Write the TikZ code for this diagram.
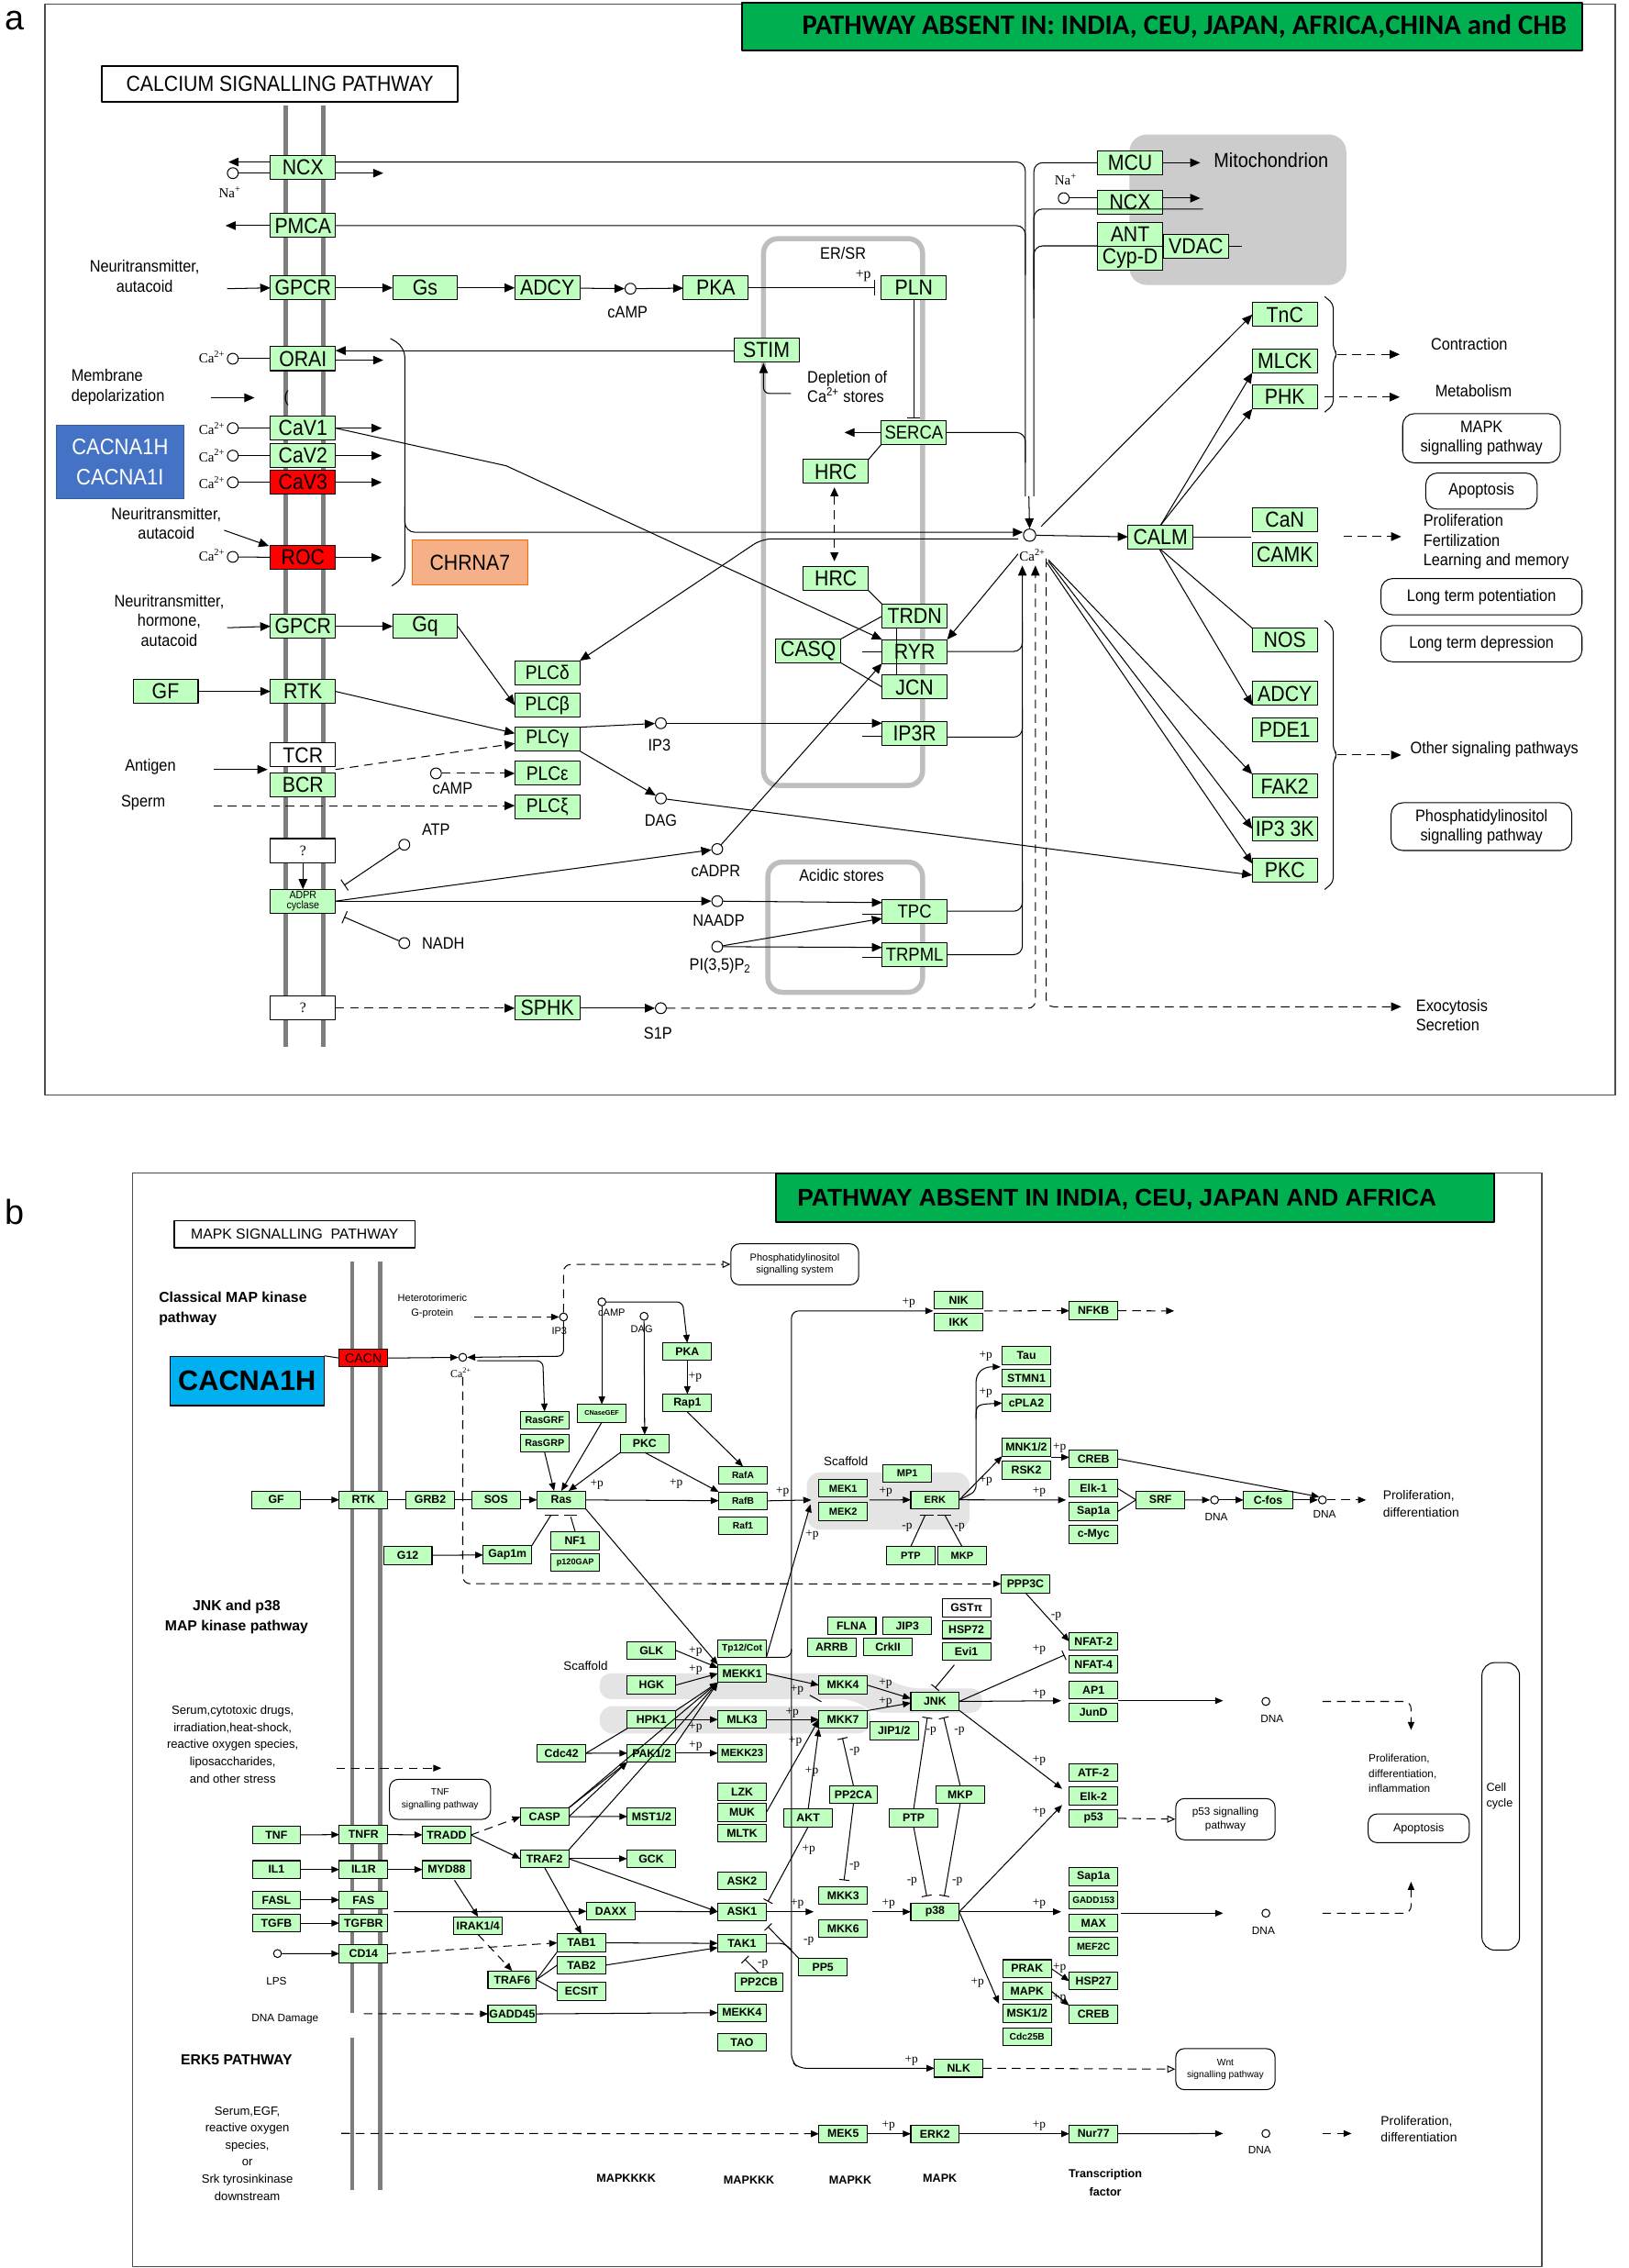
\documentclass[tikz,border=0pt]{standalone}
\usepackage{fontspec}
\setmainfont{Liberation Sans}
\newfontfamily\nfont[FakeStretch=0.9]{Liberation Sans}
\newfontfamily\kserif{Liberation Serif}
\newfontfamily\cfont{Carlito}
\usetikzlibrary{arrows.meta}
\definecolor{kgreen}{RGB}{191,255,191}
\definecolor{kred}{RGB}{255,0,0}
\definecolor{kbanner}{RGB}{0,176,80}
\definecolor{kblue}{RGB}{68,114,196}
\definecolor{kcyan}{RGB}{0,176,240}
\definecolor{kchrna}{RGB}{245,176,135}
\definecolor{kmemb}{RGB}{125,125,125}
\definecolor{kstore}{RGB}{190,190,190}
\definecolor{kmito}{RGB}{204,204,204}
\definecolor{kscaf}{RGB}{228,228,228}
\newcommand{\genefont}{\nfont\fontsize{15}{15}\selectfont}
\newcommand{\bgenefont}{\bfseries\fontsize{7.8}{8}\selectfont}
\newcommand{\caion}{{\kserif Ca\textsuperscript{2+}}}
\tikzstyle{gene}=[draw, fill=kgreen, inner sep=0, outer sep=0, minimum width=45pt, minimum height=16.5pt, font=\genefont]
\tikzstyle{rgene}=[gene, fill=kred]
\tikzstyle{wgene}=[gene, fill=white]
\tikzstyle{bgene}=[draw, fill=kgreen, inner sep=0, outer sep=0, minimum width=33.5pt, minimum height=12.3pt, font=\bgenefont]
\tikzstyle{cpd}=[circle, draw, fill=white, inner sep=0, minimum size=7.5pt]
\tikzstyle{bcpd}=[circle, draw, fill=white, inner sep=0, minimum size=5.5pt]
\tikzstyle{act}=[-{Triangle[length=7pt,width=6pt]}]
\tikzstyle{bact}=[-{Triangle[length=5.5pt,width=4.5pt]}]
\tikzstyle{inh}=[-{Bar[width=9pt]}]
\tikzstyle{binh}=[-{Bar[width=7pt]}]
\tikzstyle{kdash}=[dash pattern=on 6pt off 4pt]
\tikzstyle{oact}=[-{Triangle[open,length=5.5pt,width=5pt]}, kdash]
\tikzstyle{membrane}=[line width=3.3pt, kmemb]
\tikzstyle{lbla}=[inner sep=0, align=center, font=\nfont\fontsize{11.5}{13.5}\selectfont]
\tikzstyle{lblb}=[inner sep=0, align=center, font=\fontsize{7.5}{9}\selectfont]
\tikzstyle{ion}=[inner sep=0, font=\fontsize{9.5}{10}\selectfont]
\tikzstyle{bion}=[inner sep=0, font=\fontsize{7}{7}\selectfont]
\tikzstyle{pl}=[inner sep=0, font=\kserif\fontsize{8.5}{9}\selectfont]
\tikzstyle{mapbox}=[draw, rounded corners=8pt, inner sep=0, align=center, font=\nfont\fontsize{11.5}{13.5}\selectfont]
\tikzstyle{bmapbox}=[draw, rounded corners=6pt, inner sep=0, align=center, font=\fontsize{7}{8.5}\selectfont]
\tikzstyle{banner}=[draw, line width=1.2pt, fill=kbanner, inner sep=0]
\begin{document}
\begin{tikzpicture}[x=1pt, y=-1pt, line width=0.65pt, line join=round]
\useasboundingbox (0,0) rectangle (1126,1568);
\fill[white] (0,0) rectangle (1126,1568);

%%%%%%%%%% a: calcium signalling pathway
\node[font=\fontsize{24}{24}\selectfont] (laba) at (10,14) {a};
\draw[line width=0.8pt, black!70] (31,3) rectangle (1117,757);
\node[banner, minimum width=581pt, minimum height=33pt] (bana) at (803.5,18.5) {};
\node[font=\cfont\bfseries\fontsize{19.5}{19.5}\selectfont] (tbana) at (819,18.5) {PATHWAY ABSENT IN: INDIA, CEU, JAPAN, AFRICA,CHINA and CHB};
\node[draw, line width=1.2pt, minimum width=246pt, minimum height=25pt, inner sep=0, font=\nfont\fontsize{15}{15}\selectfont] (tita) at (193.5,58) {CALCIUM SIGNALLING PATHWAY};

% compartments
\fill[kmito, rounded corners=12pt] (781,93) rectangle (931,197);
\draw[kstore, line width=3.5pt, rounded corners=10pt] (528,165) rectangle (638,543);
\draw[kstore, line width=3.5pt, rounded corners=10pt] (531,596) rectangle (638,686);
\node[lbla] (lersr) at (583,175) {ER/SR};
\node[lbla] (lacid) at (582,605) {Acidic stores};
\node[lbla, font=\nfont\fontsize{14}{14}\selectfont] (lmito) at (879,111) {Mitochondrion};
\draw[membrane] (197.5,73) -- (197.5,724);
\draw[membrane] (223.5,73) -- (223.5,724);

% membrane column
\node[gene] (ncx) at (209.5,115.5) {NCX};
\node[gene] (pmca) at (209.5,156) {PMCA};
\node[gene] (gpcra) at (209.5,199) {GPCR};
\node[gene] (orai) at (209.5,248) {ORAI};
\node[gene] (cav1) at (209.5,296) {CaV1};
\node[gene] (cav2) at (209.5,315) {CaV2};
\node[rgene] (cav3) at (209.5,333.5) {CaV3};
\node[rgene] (roc) at (209.5,385.5) {ROC};
\node[gene] (gpcrb) at (209.5,433) {GPCR};
\node[gene] (rtka) at (209.5,478) {RTK};
\node[wgene] (tcr) at (209.5,522) {TCR};
\node[gene] (bcr) at (209.5,542.5) {BCR};
\node[wgene, font=\kserif\fontsize{10}{10}\selectfont] (unka) at (209.5,588) {?};
\node[gene, align=center, font=\nfont\fontsize{7.5}{7.5}\selectfont] (adprc) at (209.5,623) {ADPR\\cyclase};
\node[wgene, font=\kserif\fontsize{10}{10}\selectfont] (unkb) at (209.5,697) {?};
\node[gene] (gfa) at (114.5,478) {GF};
\node[draw=kblue!80!black, fill=kblue, minimum width=88pt, minimum height=51pt, inner sep=0, align=center, text=white, font=\nfont\fontsize{15.5}{20.5}\selectfont] (cacnai) at (83,319.5) {CACNA1H\\CACNA1I};
\node[draw=orange!80!red, fill=kchrna, minimum width=80pt, minimum height=31pt, inner sep=0, font=\genefont] (chrna7) at (325,389) {CHRNA7};

% cytosol genes
\node[gene] (gs) at (294,199) {Gs};
\node[gene] (adcya) at (378.5,199) {ADCY};
\node[gene] (pka) at (495,199) {PKA};
\node[gene] (gq) at (294,433) {Gq};
\node[gene, font=\nfont\fontsize{13.5}{13.5}\selectfont] (plcd) at (378.5,465) {PLCδ};
\node[gene, font=\nfont\fontsize{13.5}{13.5}\selectfont] (plcb) at (378.5,487.5) {PLCβ};
\node[gene, font=\nfont\fontsize{13.5}{13.5}\selectfont] (plcg) at (378.5,511) {PLCγ};
\node[gene, font=\nfont\fontsize{13.5}{13.5}\selectfont] (plce) at (378.5,534.7) {PLCε};
\node[gene, font=\nfont\fontsize{13.5}{13.5}\selectfont] (plcx) at (378.5,558) {PLCξ};
\node[gene] (sphk) at (378.5,697) {SPHK};
\node[gene] (stim) at (530,242) {STIM};
\node[gene] (pln) at (632,199) {PLN};
\node[gene, font=\nfont\fontsize{13}{13}\selectfont] (serca) at (632,299) {SERCA};
\node[gene] (hrca) at (578,326) {HRC};
\node[gene] (hrcb) at (578,400) {HRC};
\node[gene] (trdn) at (632.5,426) {TRDN};
\node[gene] (ryr) at (632.5,450.4) {RYR};
\node[gene] (jcn) at (632.5,475) {JCN};
\node[gene] (casq) at (559,450) {CASQ};
\node[gene] (ip3r) at (632.5,507) {IP3R};
\node[gene, font=\nfont\fontsize{13}{13}\selectfont] (tpc) at (632.5,630) {TPC};
\node[gene, font=\nfont\fontsize{13}{13}\selectfont] (trpml) at (632.5,660) {TRPML};
\node[gene] (mcu) at (781.5,112.5) {MCU};
\node[gene] (ncxm) at (781.5,140) {NCX};
\node[gene] (ant) at (781.5,162) {ANT};
\node[gene] (cypd) at (781.5,178.5) {Cyp-D};
\node[gene] (vdac) at (827,170.5) {VDAC};
\node[gene] (calm) at (802.5,371.5) {CALM};
\node[gene] (tnc) at (888.5,217.5) {TnC};
\node[gene] (mlck) at (888.5,249.5) {MLCK};
\node[gene] (phk) at (888.5,274.5) {PHK};
\node[gene] (can) at (888.5,359.5) {CaN};
\node[gene] (camk) at (888.5,383.5) {CAMK};
\node[gene] (nos) at (888.5,442.5) {NOS};
\node[gene] (adcyb) at (888.5,479.5) {ADCY};
\node[gene] (pde1) at (888.5,504.5) {PDE1};
\node[gene] (fak2) at (888.5,543.5) {FAK2};
\node[gene] (ip3k) at (888.5,573) {IP3 3K};
\node[gene] (pkca) at (888.5,601.5) {PKC};

% compounds
\node[cpd, minimum size=8.5pt] (ca) at (712,370) {};
\node[ion] (lca) at (714,384) {\caion};
\node[cpd] (naa) at (161,119.7) {};
\node[ion] (lnaa) at (159,133) {{\kserif Na\textsuperscript{+}}};
\node[cpd] (nam) at (735.6,137) {};
\node[ion] (lnam) at (737,124) {{\kserif Na\textsuperscript{+}}};
\node[cpd] (camp) at (436,199.6) {};
\node[lbla] (lcamp) at (434,215.6) {cAMP};
\node[cpd] (caorai) at (161,248) {};
\node[ion, anchor=east] (lcaorai) at (156,247) {\caion};
\foreach \i/\y in {1/296, 2/315, 3/333.5} {
  \node[cpd] (cacv\i) at (161,\y) {};
  \node[ion, anchor=east] (lcacv\i) at (156,\y) {\caion};
  \draw (cacv\i) -- (cav\i);
  \draw[act] (cav\i.east) -- ++(32,0);
}
\node[cpd] (caroc) at (161,385) {};
\node[ion, anchor=east] (lcaroc) at (156,384) {\caion};
\node[cpd] (ip3) at (457,500) {};
\node[lbla] (lip3) at (456,515) {IP3};
\node[cpd] (dag) at (457,552) {};
\node[lbla] (ldag) at (457,567) {DAG};
\node[cpd] (cadpr) at (496,587) {};
\node[lbla] (lcadpr) at (495,602.4) {cADPR};
\node[cpd] (naadp) at (496,623) {};
\node[lbla] (lnaadp) at (497,636.5) {NAADP};
\node[cpd] (pip) at (496,654.5) {};
\node[lbla] (lpip) at (498,668) {PI(3,5)P\textsubscript{2}};
\node[cpd] (s1p) at (457,697) {};
\node[lbla] (ls1p) at (455,714.5) {S1P};
\node[cpd] (atp) at (279.6,584) {};
\node[lbla] (latp) at (301.5,573.5) {ATP};
\node[cpd] (nadh) at (279.6,652) {};
\node[lbla] (lnadh) at (306.5,652) {NADH};
\node[cpd] (campb) at (301.5,534.7) {};
\node[lbla] (lcampb) at (313,545) {cAMP};

% left labels
\node[lbla] (lnt1) at (100,191) {Neuritransmitter,\\autacoid};
\node[lbla, align=left, anchor=west] (ldepol) at (49,267.5) {Membrane\\depolarization};
\node[lbla] (lnt2) at (115,362) {Neuritransmitter,\\autacoid};
\node[lbla] (lnt3) at (117,429) {Neuritransmitter,\\hormone,\\autacoid};
\node[lbla] (lantig) at (104,530) {Antigen};
\node[lbla] (lsperm) at (99,555) {Sperm};
\node[lbla, font=\nfont\fontsize{11}{11}\selectfont] (paren) at (198,275) {(};
\node[lbla, align=left, anchor=west] (ldepl) at (558,267.5) {Depletion of\\Ca\textsuperscript{2+} stores};
\node[pl, font=\kserif\fontsize{10}{10}\selectfont] (pplna) at (597,191) {+p};

% right outputs
\node[lbla] (lcontr) at (1016,238) {Contraction};
\node[lbla] (lmetab) at (1019,270) {Metabolism};
\node[mapbox, minimum width=109pt, minimum height=34pt] (mapkbox) at (1024.5,303) {MAPK\\signalling pathway};
\node[mapbox, minimum width=77pt, minimum height=25pt] (apopa) at (1024.5,339.5) {Apoptosis};
\node[lbla, align=left, anchor=west] (lprolif) at (984,374.5) {Proliferation\\Fertilization\\Learning and memory};
\node[mapbox, minimum width=139pt, minimum height=25pt] (ltpbox) at (1024.5,412.5) {Long term potentiation};
\node[mapbox, minimum width=139pt, minimum height=25pt] (ltdbox) at (1024.5,445) {Long term depression};
\node[lbla, anchor=west] (lother) at (975,518) {Other signaling pathways};
\node[mapbox, minimum width=125pt, minimum height=33pt] (phosbox) at (1024.5,571.5) {Phosphatidylinositol\\signalling pathway};
\node[lbla, align=left, anchor=west] (lexo) at (979,702) {Exocytosis\\Secretion};

% connectors: plasma membrane
\draw[act] (ncx.west |- 0,112) -- (158,112);
\draw (naa) -- (ncx.west |- naa);
\draw[act] (ncx.east |- naa) -- (265,119.7);
\draw[rounded corners=6pt] (ncx.east |- 0,112) -- (709,112) -- (709,343);
\draw[act] (pmca.west) -- (156,156);
\draw[rounded corners=6pt] (pmca.east) -- (709,156) -- (709,190);
\draw[act] (157,199.6) -- (gpcra.west);
\draw[act] (gpcra) -- (gs);
\draw[act] (gs) -- (adcya);
\draw[act] (adcya) -- (camp);
\draw[act] (camp) -- (pka);
\draw[-{Bar[width=11pt]}] (pka.east) -- (605,199);
\draw[act] (stim.west |- 0,242.4) -- (orai.east |- 0,242.4);
\draw (caorai) -- (orai);
\draw[act] (orai.east |- 0,249) -- (265,249);
\draw[act, rounded corners=4pt] (547,272) -- (528,272) -- (528,251);
\draw[act] (146,275) -- (176,275);
\draw (caroc) -- (roc);
\draw[act] (roc.east) -- ++(32,0);
\draw[act] (155,366.6) -- (186,377.5);
\draw[rounded corners=7pt] (270,234) -- (280,240) -- (280,399) -- (271,405);
\draw[act, rounded corners=7pt] (280,350) -- (280,368) -- (ca.west |- 0,368);
\draw[act] (157,434) -- (gpcrb.west);
\draw[act] (gpcrb) -- (gq);
\draw[act] (gq.east) -- (plcb.west);
\draw[act] (gfa) -- (rtka);
\draw[act] (rtka.east) -- (plcg.west |- 0,507);
\draw[act, kdash] (tcr.east |- 0,532) -- (plcg.west |- 0,514);
\draw[act] (147.5,532) -- (185,532);
\draw[act, kdash] (147.5,557) -- (plcx.west |- 0,557);
\draw[act, kdash] (campb) -- (plce.west);
\draw[act] (plcg.north east) -- (ip3);
\draw[act] (ip3) -- (ip3r.west |- ip3);
\draw[act] (plcg.south east) -- (dag);
\draw[act] (dag) -- (pkca.west |- 0,605);
\draw[act] (unka) -- (adprc);
\draw[act] (adprc.east) -- (cadpr);
\draw[act] (adprc.east) -- (naadp);
\draw[inh] (atp) -- (238,612);
\draw[inh] (nadh) -- (238,634);
\draw[act] (cadpr) -- (ryr.south west);
\draw[act] (naadp) -- (tpc.west |- 0,624);
\draw[act] (pip) -- (tpc.west |- 0,635);
\draw[act] (pip) -- (trpml.west |- 0,655);
\draw[act, kdash] (unkb) -- (sphk);
\draw[act] (sphk) -- (s1p);
\draw[act, kdash, rounded corners=5pt] (s1p) -- (716,697) -- (716,391);
\draw[act, kdash, rounded corners=5pt] (723.5,386) -- (723.5,696) -- (969,696);

% connectors: stores
\draw[act] (serca.west) -- (584,299);
\draw[rounded corners=6pt] (serca.east) -- (709,299) -- (709,320);
\draw[inh] (pln.south) -- (632,289);
\draw (serca.south west) -- (hrca.north east);
\draw[{Triangle[length=6pt,width=5.5pt]}-{Triangle[length=6pt,width=5.5pt]}, kdash] (577,337) -- (577,388);
\draw (hrcb.south east) -- (trdn.north west);
\draw (casq.north east) -- (trdn.west);
\draw (casq.south east) -- (jcn.west);
\draw (620,434) -- (620,467);
\draw (596,450.4) -- (ryr.west);
\draw (596,509) -- (ip3r.west |- 0,509);
\draw (596,632) -- (tpc.west |- 0,632);
\draw (596,662) -- (trpml.west |- 0,662);
\draw[rounded corners=6pt] (ryr.east) -- (707,450.4) -- (707,430);
\draw[rounded corners=6pt] (ip3r.east |- 0,509.6) -- (707,509.6) -- (707,490);
\draw[rounded corners=6pt] (tpc.east) -- (707,630) -- (707,610);
\draw[act, rounded corners=6pt] (trpml.east) -- (707,660) -- (707,391);
\draw[act] (cav1.east) -- (350,322) -- (ryr.north west);
\draw[act] (704,383) -- (ryr.north east);
\draw[act, rounded corners=7pt] (704,372.5) -- (527,372.5) -- (plcd.north east);

% connectors: mitochondrion
\draw[rounded corners=6pt] (mcu.west) -- (715,112.5) -- (715,343);
\draw[act] (711.5,343) -- (ca.north);
\draw[act] (mcu.east) -- (830,112.5);
\draw (nam) -- (ncxm.west |- nam);
\draw[act] (ncxm.east |- nam) -- (830,137);
\draw[rounded corners=6pt] (832,144.5) -- (715,144.5) -- (715,200);
\draw[rounded corners=6pt] (ant.west |- 0,170) -- (715,170) -- (715,220);
\draw (vdac.east) -- (859,170.5);

% connectors: calcium targets
\draw[act] (ca) -- (calm);
\draw[act] (720,364) -- (tnc.west);
\draw[act] (calm.north) -- (mlck.south west);
\draw[act] (calm.north) -- (phk.south west);
\draw (calm.east) -- (865,371.5);
\draw (calm.south) -- (nos.north west);
\draw[act] (802,380) -- (adcyb.south west);
\draw[act] (725,387) -- (fak2.north west);
\draw[act] (725,388) -- (ip3k.west);
\draw[act] (724,389) -- (pkca.west |- 0,597);
\draw[rounded corners=3pt] (916,205) -- (922,210) -- (922,241) -- (925,245) -- (922,249) -- (922,280) -- (916,285);
\draw[rounded corners=3pt] (916,429) -- (922,434) -- (922,518) -- (925,522) -- (922,526) -- (922,610) -- (916,615);
\draw[act, kdash] (925,245) -- (968,245);
\draw[act, kdash] (916,274.5) -- (968,274.5);
\draw[act, kdash] (929,371) -- (969,371);
\draw[act, kdash] (925,522) -- (969,522);

%%%%%%%%%% b: MAPK signalling pathway
\node[font=\fontsize{24}{24}\selectfont] (labb) at (10,838) {b};
\draw[line width=0.8pt, black!70] (91.5,811) rectangle (1066.3,1567);
\node[banner, minimum width=496.8pt, minimum height=34pt] (banb) at (785.1,828) {};
\node[font=\bfseries\fontsize{16.7}{16.7}\selectfont] (tbanb) at (772.4,829) {PATHWAY ABSENT IN INDIA, CEU, JAPAN AND AFRICA};
\node[draw, line width=1.2pt, minimum width=166.5pt, minimum height=19pt, inner sep=0, font=\fontsize{10}{10}\selectfont] (titb) at (203.8,853.4) {MAPK SIGNALLING\ \ PATHWAY};

% scaffolds and membrane
\fill[kscaf, rounded corners=9pt] (558,1018) rectangle (670.5,1057.5);
\fill[kscaf, rounded corners=8pt] (414.6,1156.8) -- (604,1156.8) -- (628,1167.3) -- (679.2,1167.3) -- (679.2,1184.2) -- (604,1184.2) -- (590,1174.7) -- (414.6,1174.7) -- cycle;
\fill[kscaf, rounded corners=9pt] (414.6,1179.5) rectangle (602.2,1198.5);
\draw[membrane, line width=2.8pt] (243.4,872) -- (243.4,1391.5);
\draw[membrane, line width=2.8pt] (243.4,1409) -- (243.4,1514);
\draw[membrane, line width=2.8pt] (262.8,872) -- (262.8,1514);

% section labels
\node[inner sep=0, align=left, anchor=north west, font=\bfseries\fontsize{10}{13.6}\selectfont] (lclass) at (109.6,893) {Classical MAP kinase\\pathway};
\node[draw, fill=kcyan, minimum width=106.4pt, minimum height=34.1pt, inner sep=0, font=\bfseries\fontsize{19.5}{19.5}\selectfont] (cacnb) at (170.8,954.7) {CACNA1H};
\node[inner sep=0, align=center, font=\bfseries\fontsize{10}{13.6}\selectfont] (ljnk) at (163.6,1118) {JNK and p38\\MAP kinase pathway};
\node[lblb, font=\fontsize{8.3}{11.9}\selectfont] (lstress) at (160.9,1206) {Serum,cytotoxic drugs,\\irradiation,heat-shock,\\reactive oxygen species,\\liposaccharides,\\and other stress};
\node[inner sep=0, font=\bfseries\fontsize{10}{10}\selectfont] (lerk5) at (163.6,1424.4) {ERK5 PATHWAY};
\node[lblb, font=\fontsize{8.3}{11.8}\selectfont] (legf) at (171,1488.7) {Serum,EGF,\\reactive oxygen\\species,\\or\\Srk tyrosinkinase\\downstream};
\node[lblb, font=\fontsize{7}{10}\selectfont] (lhetero) at (299,903) {Heterotorimeric\\G-protein};
\node[lblb] (ldnadam) at (197.1,1395.7) {DNA Damage};
\node[lblb] (llps) at (191.2,1370) {LPS};
\node[lblb, font=\fontsize{8.5}{8.5}\selectfont] (lscaf1) at (585,1010.4) {Scaffold};
\node[lblb, font=\fontsize{8.5}{8.5}\selectfont] (lscaf2) at (405,1151.5) {Scaffold};
\node[lblb, font=\bfseries\fontsize{8}{8}\selectfont] (lmk4) at (433,1506) {MAPKKKK};
\node[lblb, font=\bfseries\fontsize{8}{8}\selectfont] (lmk3) at (518,1507) {MAPKKK};
\node[lblb, font=\bfseries\fontsize{8}{8}\selectfont] (lmk2) at (588,1507) {MAPKK};
\node[lblb, font=\bfseries\fontsize{8}{8}\selectfont] (lmk1) at (650,1506) {MAPK};
\node[lblb, font=\bfseries\fontsize{8}{12.3}\selectfont] (ltf) at (764.4,1509) {Transcription\\factor};
\node[lblb, align=left, anchor=west, font=\fontsize{8.8}{11.6}\selectfont] (lprolb1) at (956.1,1039.7) {Proliferation,\\differentiation};
\node[lblb, align=left, anchor=west, font=\fontsize{7.5}{10.3}\selectfont] (lprolb2) at (946.2,1226) {Proliferation,\\differentiation,\\inflammation};
\node[lblb, align=left, anchor=west, font=\fontsize{8}{10.8}\selectfont] (lcell) at (1027.6,1241.7) {Cell\\cycle};
\node[lblb, align=left, anchor=west, font=\fontsize{8.8}{11.2}\selectfont] (lprolb3) at (954.6,1472) {Proliferation,\\differentiation};
\draw[rounded corners=9pt] (1024.8,1149.4) rectangle (1050.8,1348.2);
\node[bmapbox, minimum width=88.4pt, minimum height=28.4pt] (phosb) at (549.6,874.1) {Phosphatidylinositol\\signalling system};
\node[bmapbox, minimum width=69.8pt, minimum height=27.7pt, font=\fontsize{6.5}{8.5}\selectfont] (tnfbox) at (304.3,1244) {TNF\\signalling pathway};
\node[bmapbox, minimum width=68.7pt, minimum height=28.5pt, font=\fontsize{7.5}{9.5}\selectfont] (p53box) at (847.4,1257.7) {p53 signalling\\pathway};
\node[bmapbox, minimum width=68.7pt, minimum height=28.4pt, font=\fontsize{6.5}{8.5}\selectfont] (wntbox) at (847.4,1430.5) {Wnt\\signalling pathway};
\node[bmapbox, minimum width=69.8pt, minimum height=19.8pt, font=\fontsize{8}{8}\selectfont] (apopb) at (981.1,1264) {Apoptosis};

% genes b
\node[bgene, fill=kred, font=\fontsize{9}{9}\selectfont] (cacn) at (251.4,938.9) {CACN};
\node[bgene] (gfb) at (191,1036.9) {GF};
\node[bgene] (rtkb) at (251.4,1036.9) {RTK};
\node[bgene] (grb2) at (297.5,1036.9) {GRB2};
\node[bgene] (sos) at (343,1036.9) {SOS};
\node[bgene] (ras) at (388.2,1036.9) {Ras};
\node[bgene] (g12) at (282,1075.4) {G12};
\node[bgene] (gap1m) at (350.9,1074.9) {Gap1m};
\node[bgene] (nf1) at (397.8,1065.2) {NF1};
\node[bgene, font=\bfseries\fontsize{5.8}{6}\selectfont] (p120) at (397.8,1080.3) {p120GAP};
\node[bgene, font=\bfseries\fontsize{6.8}{7}\selectfont] (rasgrf) at (376.6,982) {RasGRF};
\node[bgene, font=\bfseries\fontsize{6.8}{7}\selectfont] (rasgrp) at (376.6,997.9) {RasGRP};
\node[bgene, font=\bfseries\fontsize{4.6}{5}\selectfont] (cnase) at (416.2,977.1) {CNaseGEF};
\node[bgene] (pkab) at (475.3,934.5) {PKA};
\node[bgene] (rap1) at (475.3,970) {Rap1};
\node[bgene] (pkcb) at (445.8,998) {PKC};
\node[bgene, font=\bfseries\fontsize{6.5}{7}\selectfont] (rafa) at (513.8,1020) {RafA};
\node[bgene, font=\bfseries\fontsize{6.5}{7}\selectfont] (rafb) at (513.8,1037.6) {RafB};
\node[bgene, font=\bfseries\fontsize{6.5}{7}\selectfont] (raf1) at (513.8,1054.9) {Raf1};
\node[bgene, font=\bfseries\fontsize{7}{7}\selectfont] (mek1) at (583.1,1029) {MEK1};
\node[bgene, font=\bfseries\fontsize{7}{7}\selectfont] (mek2) at (583.1,1045) {MEK2};
\node[bgene, font=\bfseries\fontsize{7}{7}\selectfont] (mp1) at (627.5,1018.6) {MP1};
\node[bgene, font=\bfseries\fontsize{7}{7}\selectfont] (erk) at (646.6,1036.9) {ERK};
\node[bgene, font=\bfseries\fontsize{7}{7}\selectfont] (ptpa) at (629.8,1075.4) {PTP};
\node[bgene, font=\bfseries\fontsize{7}{7}\selectfont] (mkpa) at (665.3,1075.4) {MKP};
\node[bgene] (nik) at (663,898.8) {NIK};
\node[bgene] (ikk) at (663,913.9) {IKK};
\node[bgene] (nfkb) at (756.2,906.2) {NFKB};
\node[bgene] (tau) at (709.8,937.2) {Tau};
\node[bgene] (stmn1) at (709.8,952.7) {STMN1};
\node[bgene] (cpla2) at (709.8,970) {cPLA2};
\node[bgene] (mnk) at (709.8,1000.6) {MNK1/2};
\node[bgene] (rsk2) at (709.8,1016.4) {RSK2};
\node[bgene] (creba) at (756.2,1008.6) {CREB};
\node[bgene] (elk1) at (756.2,1029) {Elk-1};
\node[bgene] (sap1aa) at (756.2,1045) {Sap1a};
\node[bgene] (cmyc) at (756.2,1060.8) {c-Myc};
\node[bgene, minimum width=33.9pt] (srf) at (802.5,1036.9) {SRF};
\node[bgene, minimum width=33.9pt] (cfos) at (876.9,1037) {C-fos};
\node[bgene] (ppp3c) at (709.1,1095) {PPP3C};
\node[bgene] (nfat2) at (756.2,1134.8) {NFAT-2};
\node[bgene] (nfat4) at (756.2,1150.6) {NFAT-4};
\node[bgene, fill=white] (gst) at (668.3,1111.5) {GSTπ};
\node[bgene] (hsp72) at (668.3,1126.7) {HSP72};
\node[bgene] (evi1) at (668.3,1141.8) {Evi1};
\node[bgene] (flna) at (589,1123.9) {FLNA};
\node[bgene] (jip3) at (627.5,1123.9) {JIP3};
\node[bgene] (arrb) at (575.2,1138.9) {ARRB};
\node[bgene] (crkii) at (614,1138.5) {CrkII};
\node[bgene] (glk) at (450.6,1141) {GLK};
\node[bgene, font=\bfseries\fontsize{6.5}{7}\selectfont] (tpl2) at (513.2,1139.7) {Tp12/Cot};
\node[bgene] (mekk1) at (513.2,1157) {MEKK1};
\node[bgene] (hgk) at (450.6,1165) {HGK};
\node[bgene] (hpk1) at (450.6,1188.8) {HPK1};
\node[bgene] (mlk3) at (513.2,1188.8) {MLK3};
\node[bgene] (mkk4) at (583,1165) {MKK4};
\node[bgene] (mkk7) at (583,1188.8) {MKK7};
\node[bgene] (jnk) at (646.6,1176.3) {JNK};
\node[bgene] (jip12) at (618.3,1196.6) {JIP1/2};
\node[bgene] (ap1) at (756.2,1168.4) {AP1};
\node[bgene] (jund) at (756.2,1184) {JunD};
\node[bgene] (cdc42) at (388.3,1212.2) {Cdc42};
\node[bgene] (pak) at (450.6,1212) {PAK1/2};
\node[bgene, font=\bfseries\fontsize{7.2}{7.5}\selectfont] (mekk23) at (513.2,1212) {MEKK23};
\node[bgene] (casp) at (376.6,1256) {CASP};
\node[bgene] (mst) at (450.6,1255.8) {MST1/2};
\node[bgene] (traf2) at (376.6,1285) {TRAF2};
\node[bgene] (gck) at (450.4,1285) {GCK};
\node[bgene] (lzk) at (513.2,1238.7) {LZK};
\node[bgene] (muk) at (513.2,1253) {MUK};
\node[bgene] (mltk) at (513.2,1267.3) {MLTK};
\node[bgene] (akt) at (558.9,1256.8) {AKT};
\node[bgene] (pp2ca) at (590.2,1240.8) {PP2CA};
\node[bgene] (ptpb) at (631.8,1256.8) {PTP};
\node[bgene] (mkpb) at (664,1240.8) {MKP};
\node[bgene] (atf2) at (756.2,1225.6) {ATF-2};
\node[bgene] (elk2) at (756.2,1241.7) {Elk-2};
\node[bgene] (p53) at (756.2,1257.1) {p53};
\node[bgene] (ask2) at (513.1,1300.4) {ASK2};
\node[bgene] (ask1) at (513.1,1321.7) {ASK1};
\node[bgene] (tak1) at (513.1,1343.5) {TAK1};
\node[bgene] (pp2cb) at (524.9,1370.5) {PP2CB};
\node[bgene] (mekk4) at (513.1,1391.5) {MEKK4};
\node[bgene] (tao) at (513.1,1411.8) {TAO};
\node[bgene] (pp5) at (569.1,1360) {PP5};
\node[bgene] (mkk3) at (583.1,1310.5) {MKK3};
\node[bgene] (mkk6) at (583.1,1333.3) {MKK6};
\node[bgene] (p38) at (646.6,1321.7) {p38};
\node[bgene] (sap1ab) at (756.2,1297.4) {Sap1a};
\node[bgene, font=\bfseries\fontsize{6.3}{7}\selectfont] (gadd153) at (756.2,1313.5) {GADD153};
\node[bgene] (max) at (756.2,1329.6) {MAX};
\node[bgene, font=\bfseries\fontsize{6.8}{7}\selectfont] (mef2c) at (756.2,1345.7) {MEF2C};
\node[bgene] (prak) at (710.3,1361) {PRAK};
\node[bgene] (mapk) at (710.3,1376.6) {MAPK};
\node[bgene] (msk) at (710.3,1392) {MSK1/2};
\node[bgene, font=\bfseries\fontsize{6.5}{7}\selectfont] (cdc25b) at (710.3,1408.1) {Cdc25B};
\node[bgene] (hsp27) at (756.2,1369.6) {HSP27};
\node[bgene] (crebb) at (756.2,1392.7) {CREB};
\node[bgene] (nlk) at (663,1429.9) {NLK};
\node[bgene] (mek5) at (583.1,1475.2) {MEK5};
\node[bgene] (erk2) at (646.6,1475.2) {ERK2};
\node[bgene] (nur77) at (756.2,1475.2) {Nur77};
\node[bgene] (tnf) at (191.2,1268.6) {TNF};
\node[bgene] (tnfr) at (251.4,1268.3) {TNFR};
\node[bgene] (tradd) at (308.9,1268.6) {TRADD};
\node[bgene] (il1) at (191.2,1292.5) {IL1};
\node[bgene] (il1r) at (251.4,1292.5) {IL1R};
\node[bgene] (myd88) at (308.9,1292.5) {MYD88};
\node[bgene] (fasl) at (191.2,1313.5) {FASL};
\node[bgene] (fas) at (251.4,1313.5) {FAS};
\node[bgene] (tgfb) at (191.2,1329.6) {TGFB};
\node[bgene] (tgfbr) at (251.4,1329.6) {TGFBR};
\node[bgene] (cd14) at (251.4,1350.7) {CD14};
\node[bgene] (daxx) at (422.4,1321.4) {DAXX};
\node[bgene] (irak) at (330.6,1331.3) {IRAK1/4};
\node[bgene] (tab1) at (402.1,1343.2) {TAB1};
\node[bgene] (tab2) at (402.1,1358.6) {TAB2};
\node[bgene] (ecsit) at (402.1,1376.7) {ECSIT};
\node[bgene] (traf6) at (354.2,1368.7) {TRAF6};
\node[bgene] (gadd45) at (354.2,1392.3) {GADD45};

% compounds b
\node[bcpd] (cab) at (320,938.4) {};
\node[bion, font=\kserif\fontsize{7.5}{7.5}\selectfont] (lcab) at (318.8,949) {Ca\textsuperscript{2+}};
\node[bcpd] (ip3b) at (389.7,910.5) {};
\node[bion] (lip3b) at (386.8,920.4) {IP3};
\node[bcpd] (campc) at (416.2,900.1) {};
\node[bion] (lcampc) at (423,907.5) {cAMP};
\node[bcpd] (dagb) at (445.4,910) {};
\node[bion] (ldagb) at (443.8,919.1) {DAG};
\node[bcpd] (lps) at (191.9,1350.6) {};
\node[bcpd] (dna1) at (839.9,1037) {};
\node[bion, font=\fontsize{7.5}{7.5}\selectfont] (ldna1) at (841.1,1048.7) {DNA};
\node[bcpd] (dna2) at (914.5,1037) {};
\node[bion, font=\fontsize{7.5}{7.5}\selectfont] (ldna2) at (916,1047) {DNA};
\node[bcpd] (dna3) at (875.4,1176.3) {};
\node[bion, font=\fontsize{7.5}{7.5}\selectfont] (ldna3) at (879.6,1188.5) {DNA};
\node[bcpd] (dna4) at (875.4,1322.7) {};
\node[bion, font=\fontsize{7.5}{7.5}\selectfont] (ldna4) at (873.7,1335.1) {DNA};
\node[bcpd] (dna5) at (875.4,1475) {};
\node[bion, font=\fontsize{7.5}{7.5}\selectfont] (ldna5) at (871.1,1486.3) {DNA};

% phosphorylation marks b
\foreach \x/\y [count=\k] in {480.7/952.4, 412.8/1026.5, 467.6/1026, 541.2/1031.4, 612.6/1031.4, 628.4/900.6, 681.7/937.6, 681.7/962.8, 681.7/1024, 732.7/1001.3, 718.6/1031.4, 561.6/1061, 718.6/1140.5, 718.6/1170.9, 481/1142, 481/1154.7, 481/1194.7, 481/1207, 551.2/1168.4, 547.8/1184.2, 612.4/1164.2, 612.4/1176.8, 550/1204.2, 561.4/1225.2, 559.3/1278.8, 551.4/1316, 614.4/1316, 718.6/1316, 718.6/1252.8, 718.6/1217.4, 676/1370.5, 732.7/1360.5, 732.7/1381.6, 630.3/1424.9, 614.4/1469.5, 718.6/1469.5}
  \node[pl] (plus\k) at (\x,\y) {+p};
\foreach \x/\y [count=\k] in {627.3/1056, 663.6/1056, 730.4/1117.8, 644/1197, 663.4/1197, 630.7/1301.1, 662/1301.1, 591/1210.8, 591/1290, 559.3/1342, 527.6/1358}
  \node[pl] (minus\k) at (\x,\y) {-p};

% connectors b: classical
\draw (cacnb.north east) -- (cacn.west);
\draw[bact] (cacn.east) -- (cab);
\draw[bact, kdash] (328,910.5) -- (ip3b);
\draw[bact, rounded corners=4pt] (ip3b) -- (389.7,937.6) -- (cab.east);
\draw[bact, rounded corners=4pt] (330,940.8) -- (375.4,940.8) -- (rasgrf.north);
\draw[bact, kdash, rounded corners=5pt] (320,952) -- (320,1094.9) -- (ppp3c.west);
\draw[oact, rounded corners=5pt] (ip3b) -- (389.7,874.2) -- (phosb.west);
\draw[bact, rounded corners=4pt] (campc) -- (472.1,900.1) -- (pkab.north);
\draw[bact] (campc) -- (cnase.north);
\draw[bact] (dagb) -- (pkcb.north);
\draw[bact] (pkab) -- (rap1);
\draw[bact] (rap1.south) -- (rafa.north);
\draw[bact] (gfb) -- (rtkb);
\draw (rtkb) -- (grb2);
\draw (grb2) -- (sos);
\draw[bact] (sos) -- (ras);
\draw[bact] (rasgrp.south) -- ([xshift=-5pt]ras.north);
\draw[bact] (cnase.south) -- (ras.north);
\draw[bact] (pkcb.south west) -- ([xshift=5pt]ras.north);
\draw[bact] (pkcb.south) -- (rafb.north west);
\draw[bact] (ras) -- (rafb);
\draw[bact] (rafb.east) -- (561,1037);
\draw[bact] (ras.south east) -- (mekk1.north west);
\draw[bact] (g12) -- (gap1m);
\draw (gap1m.north east) -- (381,1047.5);
\draw (nf1.north) -- (394.7,1048.7);
\draw (376.6,1047.5) -- (386,1047.5);
\draw (390,1047.5) -- (399.2,1047.5);
\draw[bact] (601.3,1037) -- (erk.west);
\draw (ptpa.north) -- (639.8,1047.5);
\draw (636,1047.5) -- (645.4,1047.5);
\draw (mkpa.north) -- (653.4,1047.5);
\draw (648,1047.5) -- (658,1047.5);
\draw[bact, rounded corners=4pt] (erk.east) -- (675,1031) -- (675,951) -- (681,945) -- (692,945);
\draw[bact] (675,981) .. controls (675,971) .. (cpla2.west);
\draw[bact] (erk.east) -- (mnk.south west);
\draw[bact] (727.2,1007.5) -- (creba.west |- 0,1007.5);
\draw[bact] (erk.east) -- (737.2,1037);
\draw (elk1.east) -- (srf.west);
\draw (sap1aa.east) -- (srf.west);
\draw[bact] (srf) -- (dna1);
\draw[bact] (dna1) -- (cfos);
\draw[bact] (cfos) -- (dna2);
\draw[bact] (creba.east) -- (dna2.north west);
\draw[bact, kdash] (dna2) -- (944.7,1037);
\draw[bact, rounded corners=5pt] (tpl2.south east) -- (547.3,1145.8) -- (547.3,906.3) -- (645.4,906.3);
\draw[bact, rounded corners=5pt] (547.3,1140) -- (547.3,1425) -- (552.3,1429.9) -- (nlk.west);
\draw[rounded corners=3pt] (tak1.east) -- (542,1343.5) -- (547.3,1348);
\draw[bact, kdash] (680.6,906.3) -- (nfkb.west);
\draw[bact, kdash] (nfkb.east) -- (812,906.3);
\draw[bact] (ppp3c.south) -- (nfat2.west);
\draw[binh] (jnk.east) -- (736.1,1144.2);
\draw[bact] (jnk.east) -- (733.8,1175.8);
\draw[bact] (773.5,1175.8) -- (845.8,1175.8);
\draw[bact, kdash, rounded corners=5pt] (914.5,1176.3) -- (975.8,1176.3) -- (975.8,1196);
\draw[binh] (660,1151) -- (646.6,1167);

% connectors b: JNK and p38
\draw[bact] (glk.east) -- ([yshift=4pt]mekk1.west);
\draw[bact] (hgk.east) -- (mekk1.west);
\draw[bact] (hpk1.north east) -- (mekk1.south west);
\draw[bact] (pak.north east) -- (mekk1.south west);
\draw[bact] (casp.north east) -- (mekk1.south west);
\draw[bact] (traf2.north east) -- (mekk1.south west);
\draw[bact] (hpk1) -- (mlk3);
\draw[bact] (mlk3) -- (mkk7);
\draw[bact] (mekk1.east) -- (mkk4.west);
\draw[bact] (mkk4.east) -- ([yshift=2pt]jnk.west);
\draw[bact] (mkk7.north east) -- ([yshift=-1pt]jnk.west);
\draw (cdc42.east) -- (hpk1.south west);
\draw[bact] (cdc42) -- (pak);
\draw[bact] (pak) -- (mekk23);
\draw[bact] (casp.north east) -- (pak.south west);
\draw[bact] (casp.east) -- (pak.south west);
\draw[bact] (casp) -- (mst);
\draw[bact] (traf2) -- (gck);
\draw[bact] (traf2.east) -- (ask1.west);
\draw[bact] (tpl2.south east) -- (560.5,1040);
\draw[bact] (muk.east) -- (mkk7.west);
\draw[bact] (akt.north) -- (mkk7.south west);
\draw (560,1172) -- (568,1176.5);
\draw[bact] (272.3,1321.7) -- (daxx.west);
\draw[bact] (daxx) -- (ask1);
\draw[bact] (ask1.east) -- (562.7,1321.7);
\draw[bact] (603.5,1321.7) -- (p38.west);
\draw[bact] (p38.east) -- (733.8,1321.7);
\draw[bact] (p38.east) -- (734.5,1247.9);
\draw[bact] (jnk.south east) -- (734.5,1236.7);
\draw[bact] (p38.east) -- (690.8,1385.3);
\draw[bact] (prak.east) -- (hsp27.west);
\draw[bact] (mapk.east) -- (crebb.north west);
\draw[bact] (775.3,1322.7) -- (845.8,1322.7);
\draw[bact, kdash, rounded corners=5pt] (914.5,1322.7) -- (975.8,1322.7) -- (975.8,1301);
\draw[oact] (p53.east) -- (p53box.west);
\draw[oact] (nlk.east) -- (wntbox.west);
\draw[binh] (akt.south) -- (531,1314.7);
\draw[binh] (pp5.north west) -- (531,1332);
\draw[binh] (pp2cb.north) -- (515,1354.5);
\draw[binh] (pp2ca.north) -- (582.6,1201.6);
\draw[binh] (pp2ca.south) -- (583.7,1300);
\draw[binh] (ptpb.north) -- (641.3,1187.3);
\draw[binh] (mkpb.north) -- (652.6,1187.3);
\draw[binh] (ptpb.south) -- (640.9,1311);
\draw[binh] (mkpb.south) -- (653,1311);
\draw[bact, kdash] (232.7,1222.4) -- (305.2,1222.4);
\draw[bact] (tnf) -- (tnfr);
\draw[bact] (tnfr) -- (tradd);
\draw[bact] (il1) -- (il1r);
\draw[bact] (il1r) -- (myd88);
\draw[bact] (fasl) -- (fas);
\draw[bact] (tgfb) -- (tgfbr);
\draw[bact] (lps) -- (cd14);
\draw[bact, kdash] (tradd.east) -- (casp.west);
\draw[bact] (tradd.east) -- (traf2.west);
\draw[bact] (314.3,1299.9) -- (irak.north);
\draw[bact, kdash] (irak.south) -- (traf6.north);
\draw[bact, kdash] (cd14.east) -- (tab1.west);
\draw (traf6.east) -- (tab1.south west);
\draw (traf6.east) -- (tab2.west);
\draw (traf6.east) -- (ecsit.west);
\draw[bact] (traf2.south) -- (tab1.north);
\draw[bact] (tab1.east) -- (tak1.west);
\draw[bact] (tab2.east) -- ([yshift=-3pt]tak1.west);
\draw[bact, kdash] (251.5,1392.2) -- (gadd45.west);
\draw[bact] (gadd45.east) -- (mekk4.west);

% connectors b: ERK5
\draw[bact, kdash] (236.1,1474.9) -- (mek5.west);
\draw[bact] (mek5) -- (erk2);
\draw[bact] (erk2) -- (nur77);
\draw[bact] (nur77.east) -- (845.8,1475);
\draw[bact, kdash] (914.5,1475) -- (934.6,1475);
\end{tikzpicture}
\end{document}
